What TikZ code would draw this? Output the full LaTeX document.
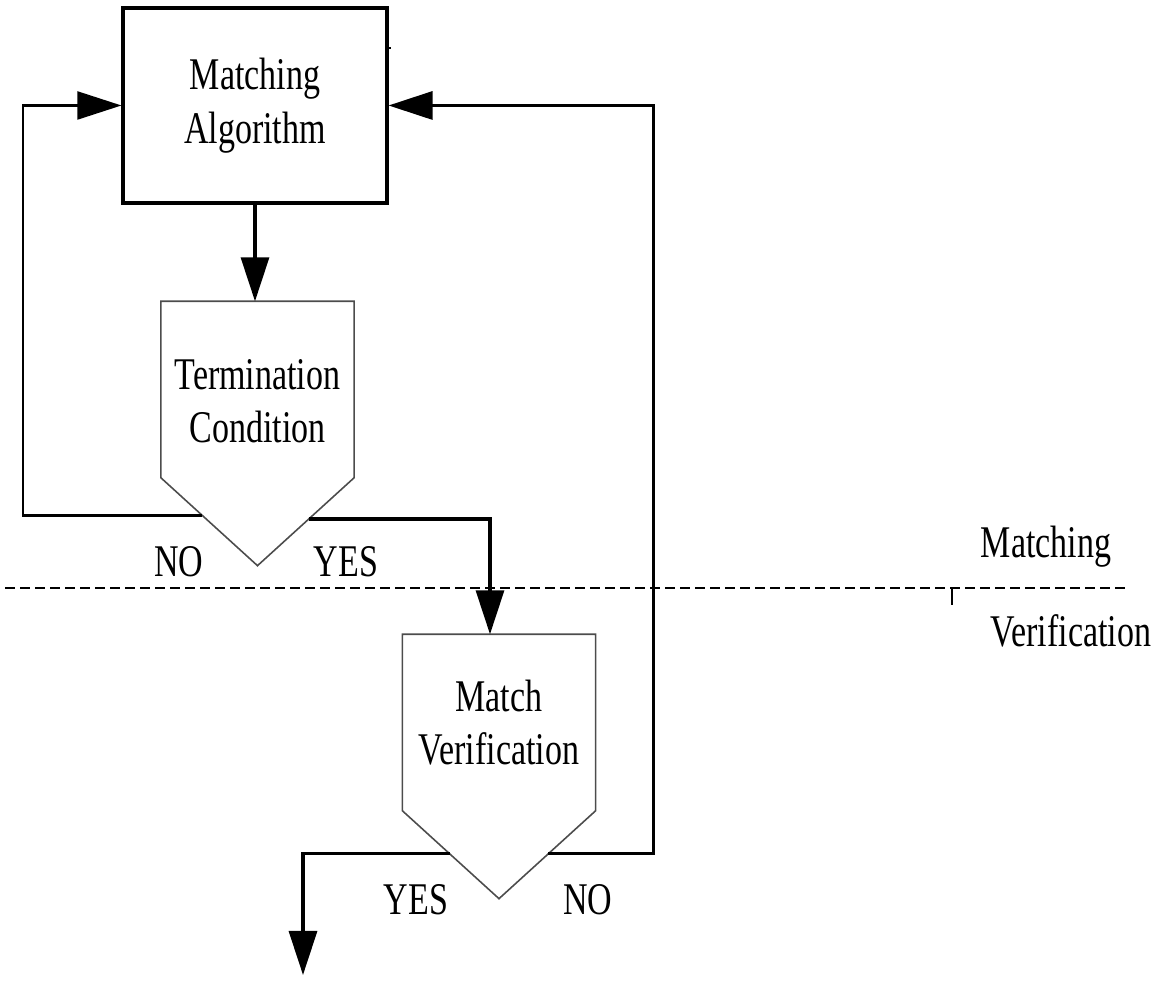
\documentclass[tikz,border=0pt]{standalone}
\usepackage{fontspec}
\setmainfont{Liberation Serif}[FakeStretch=0.75]
\usetikzlibrary{calc,positioning,arrows.meta}

\begin{document}
\begin{tikzpicture}[
    font=\fontsize{12.9}{15.2}\selectfont,
    procbox/.style={draw, rectangle, line width=0.9pt, minimum width=2.64cm, minimum height=1.95cm, align=center, inner sep=0pt},
    testbox/.style={rectangle, minimum width=1.92cm, minimum height=1.75cm, align=center, inner sep=0pt},
    testline/.style={draw=black!70, line width=0.45pt},
    flow/.style={-{Triangle[length=4.4mm, width=2.8mm]}, line width=0.9pt},
    loopback/.style={-{Triangle[length=4.4mm, width=2.8mm]}, line width=0.6pt}
]
    \useasboundingbox (0,0) rectangle (11.59,9.82);

    % Matching step
    \node[procbox] (algo) at (2.55, 8.765) {Matching\\Algorithm};
    \draw[line width=0.6pt] (3.87, 9.34) -- (3.91, 9.34);

    % Decision shapes (text sits in the square part)
    \node[testbox] (term) at (2.575, 5.925) {\rule{0pt}{0.53cm}Termination\\Condition};
    \coordinate (termtip) at ($(term.south)+(0,-0.88)$);
    \draw[testline] (term.north west) -- (term.north east) -- (term.south east) -- (termtip) -- (term.south west) -- cycle;

    \node[testbox] (verif) at (4.99, 2.595) {Match\\Verification};
    \coordinate (veriftip) at ($(verif.south)+(0,-0.88)$);
    \draw[testline] (verif.north west) -- (verif.north east) -- (verif.south east) -- (veriftip) -- (verif.south west) -- cycle;

    % Arrows
    \draw[flow] (algo.south) -- (algo.south |- term.north);
    \draw[loopback] ($(term.south west)!0.43!(termtip)$) -| ([xshift=-0.98cm]algo.west) -- (algo.west);
    \draw[flow] ($(term.south east)!0.47!(termtip)$) -| ([xshift=-0.09cm]verif.north);
    \draw[flow] ($(verif.south east)!0.49!(veriftip)$) -| ([xshift=2.65cm]algo.east) -- (algo.east);
    \coordinate (done) at (3.03, 0.07);
    \draw[flow] ($(verif.south west)!0.49!(veriftip)$) -| (done);

    % Branch labels
    \node[anchor=base] (termno) at (1.79, 4.05) {NO};
    \node[anchor=base] (termyes) at (3.46, 4.05) {YES};
    \node[anchor=base] (verifyes) at (4.16, 0.67) {YES};
    \node[anchor=base] (verifno) at (5.88, 0.67) {NO};

    % Phase boundary
    \draw[dash pattern=on 0.10cm off 0.05cm, line width=0.5pt] (0.05, 3.94) -- (11.3, 3.94);
    \draw[line width=0.45pt] (9.52, 3.94) -- (9.52, 3.77);
    \node[anchor=base] (upper) at (10.46, 4.24) {Matching};
    \node[anchor=base] (lower) at (10.71, 3.35) {Verification};
\end{tikzpicture}
\end{document}
